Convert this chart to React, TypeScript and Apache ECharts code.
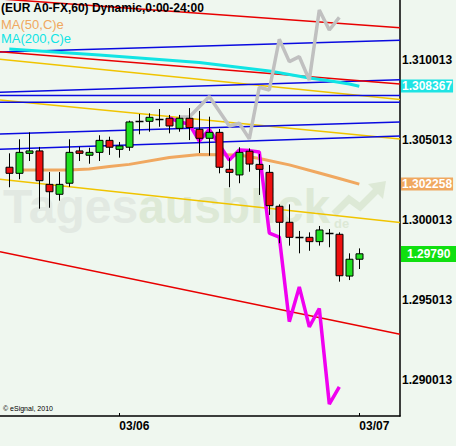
import React, { useEffect, useRef } from "react";
import * as echarts from "echarts";

// ---- data ----
const opens = [1.30331, 1.30293, 1.30418, 1.30433, 1.30224, 1.30162, 1.30231, 1.30433, 1.30406, 1.30424, 1.30499, 1.30443, 1.30456, 1.30622, 1.30618, 1.30633, 1.30637, 1.30574, 1.30637, 1.30568, 1.30512, 1.30549, 1.30318, 1.30283, 1.30431, 1.30349, 1.30299, 1.30087, 1.29987, 1.29897, 1.29893, 1.29866, 1.29918, 1.29912, 1.29651, 1.29756];
const closes = [1.30293, 1.30424, 1.30433, 1.30247, 1.30178, 1.30224, 1.30424, 1.30418, 1.30424, 1.30499, 1.30456, 1.30464, 1.30614, 1.30622, 1.30643, 1.30633, 1.30589, 1.30637, 1.30579, 1.30512, 1.30549, 1.30331, 1.30299, 1.30424, 1.30351, 1.30318, 1.30091, 1.29987, 1.29893, 1.29897, 1.29866, 1.29939, 1.29918, 1.29653, 1.29756, 1.2979];
const lows = [1.30206, 1.30256, 1.3037, 1.30072, 1.30078, 1.30122, 1.30209, 1.3037, 1.30353, 1.3037, 1.30408, 1.30391, 1.30434, 1.30537, 1.30553, 1.30584, 1.30543, 1.30553, 1.30501, 1.3042, 1.30403, 1.30293, 1.30206, 1.30231, 1.30303, 1.30158, 1.30033, 1.29856, 1.29841, 1.29793, 1.29809, 1.29841, 1.29831, 1.29616, 1.29626, 1.29695];
const highs = [1.30418, 1.30506, 1.30549, 1.30458, 1.30301, 1.30301, 1.30506, 1.30459, 1.30453, 1.30531, 1.30522, 1.30489, 1.30622, 1.30664, 1.30668, 1.30695, 1.30658, 1.30658, 1.30701, 1.30683, 1.30647, 1.3057, 1.30387, 1.30456, 1.30449, 1.30414, 1.30345, 1.30099, 1.30099, 1.29933, 1.29924, 1.29964, 1.29945, 1.29924, 1.29793, 1.29824];

const ma50Idx = [1, 6, 8, 10, 12, 16, 19, 23, 25, 28, 31, 33, 35];
const ma50Val = [1.30314, 1.30314, 1.3032, 1.30336, 1.30349, 1.30392, 1.30411, 1.30408, 1.30386, 1.30346, 1.30295, 1.30261, 1.302258];
const ma200Idx = [0, 9, 19, 26, 30, 32, 34, 35];
const ma200Val = [1.3107, 1.31033, 1.30986, 1.30933, 1.30889, 1.30872, 1.30851, 1.308367];

const grayIdx = [17, 18, 20, 22, 23, 24, 25, 26, 27, 28, 29, 30, 31, 32, 33];
const grayVal = [1.30645, 1.30645, 1.30773, 1.30589, 1.30606, 1.30508, 1.30831, 1.30814, 1.31131, 1.30991, 1.31022, 1.30876, 1.31314, 1.31189, 1.31268];
const magIdx = [16, 17, 18, 19, 20, 22, 23, 24, 25, 26, 27, 28, 29, 30, 31, 32, 33];
const magVal = [1.30639, 1.30614, 1.30601, 1.30495, 1.30567, 1.30376, 1.30439, 1.30435, 1.30426, 1.2992, 1.29895, 1.29366, 1.29583, 1.29333, 1.29448, 1.28851, 1.28958];

// trend lines: [price at left edge, price at right edge]
const redLines = [[1.31383, 1.31203], [1.31053, 1.30851], [1.29803, 1.29287]];
const blueLines = [[1.31051, 1.31124], [1.30799, 1.30878], [1.30779, 1.30779], [1.30737, 1.30737], [1.30539, 1.30614], [1.30443, 1.30526]];
const yellowLines = [[1.31006, 1.30754], [1.30751, 1.30508], [1.30256, 1.29986]];

const yTickValues = [1.290013, 1.295013, 1.300013, 1.305013, 1.310013];
const yTickLabels = ["1.290013", "1.295013", "1.300013", "1.305013", "1.310013"];
const dateTickIdx = [11, 35];
const dateTickLabels = ["03/06", "03/07"];

const markerValues = [1.308367, 1.302258, 1.2979];
const markerLabels = ["1.308367", "1.302258", "1.29790"];
const markerColors = ["#1ee4e4", "#f0a860", "#10e010"];

const xMin = -0.93;
const xMax = 39.07;
const yMin = 1.287763;
const yMax = 1.313763;

const FONT = '"Liberation Sans", Arial, sans-serif';

export default function App() {
  const ref = useRef<HTMLDivElement>(null);
  useEffect(() => {
    if (!ref.current) return;
    const chart = echarts.init(ref.current, null, { renderer: "svg" });

    const trend = (arr: number[][], color: string) =>
      arr.map((p) => ({
        type: "line",
        data: [[xMin, p[0]], [xMax, p[1]]],
        showSymbol: false,
        silent: true,
        z: 1,
        lineStyle: { color, width: 1.5 },
      }));

    const candleData = opens.map((o, i) => [i, o, closes[i], lows[i], highs[i]]);

    const option: any = {
      animation: false,
      backgroundColor: "#eff7ef",
      grid: { left: 0, right: 56, top: 0, bottom: 30 },
      xAxis: {
        type: "value",
        min: xMin,
        max: xMax,
        axisLine: { show: true, onZero: false, lineStyle: { color: "#000", width: 1.5 } },
        axisTick: { show: true, inside: true, length: 3, customValues: dateTickIdx, lineStyle: { color: "#000" } },
        axisLabel: {
          customValues: dateTickIdx,
          formatter: (v: number) => {
            const i = dateTickIdx.indexOf(Math.round(v));
            return i >= 0 ? dateTickLabels[i] : "";
          },
          align: "left",
          color: "#000",
          fontWeight: "bold",
          fontSize: 12,
          fontFamily: FONT,
          margin: 4,
        },
        splitLine: { show: false },
      },
      yAxis: {
        type: "value",
        position: "right",
        min: yMin,
        max: yMax,
        axisLine: { show: true, onZero: false, lineStyle: { color: "#000", width: 1.5 } },
        axisTick: { show: false },
        axisLabel: {
          customValues: yTickValues,
          formatter: (v: number) => {
            let best = 0;
            yTickValues.forEach((t, i) => {
              if (Math.abs(t - v) < Math.abs(yTickValues[best] - v)) best = i;
            });
            return yTickLabels[best];
          },
          color: "#000",
          fontWeight: "bold",
          fontSize: 12,
          fontFamily: FONT,
          margin: 2,
        },
        splitLine: { show: false },
      },
      graphic: [
        {
          type: "text",
          x: 3,
          y: 206,
          z: 0,
          silent: true,
          style: {
            text: "{a|Tages}{b|ausblick}",
            verticalAlign: "middle",
            rich: {
              a: { fill: "#e2e9e2", fontSize: 48, fontWeight: "bold", fontFamily: FONT },
              b: { fill: "#dde9d6", fontSize: 48, fontWeight: "bold", fontFamily: FONT },
            },
          },
        },
        {
          type: "text",
          x: 334,
          y: 223,
          z: 0,
          silent: true,
          style: { text: "de", fill: "#dde9d6", font: `bold 13px ${FONT}`, verticalAlign: "middle" },
        },
        {
          type: "polyline",
          z: 0,
          silent: true,
          shape: { points: [[334, 214], [349, 199], [360, 207], [376, 191]] },
          style: { stroke: "#dde9d6", lineWidth: 7, fill: "none" },
        },
        {
          type: "polygon",
          z: 0,
          silent: true,
          shape: { points: [[368, 184], [386, 181], [383, 199]] },
          style: { fill: "#dde9d6" },
        },
        {
          type: "text",
          x: 1,
          y: 2,
          z: 100,
          style: { text: "(EUR A0-FX,60) Dynamic,0:00-24:00", fill: "#000", font: `bold 12px ${FONT}` },
        },
        {
          type: "text",
          x: 1,
          y: 18,
          z: 100,
          style: { text: "MA(50,C)e", fill: "#f0a860", font: `13px ${FONT}` },
        },
        {
          type: "text",
          x: 1,
          y: 32,
          z: 100,
          style: { text: "MA(200,C)e", fill: "#10e4e4", font: `13px ${FONT}` },
        },
        {
          type: "text",
          x: 3,
          y: 405,
          z: 100,
          style: { text: "\u00a9 eSignal, 2010", fill: "#000", font: `7px ${FONT}` },
        },
      ],
      series: [
        ...trend(yellowLines, "#f0c400"),
        ...trend(blueLines, "#0a0ae0"),
        ...trend(redLines, "#e80000"),
        {
          type: "line",
          data: ma50Idx.map((k, i) => [k, ma50Val[i]]),
          showSymbol: false,
          z: 3,
          lineStyle: { color: "#f0a860", width: 3 },
        },
        {
          type: "line",
          data: ma200Idx.map((k, i) => [k, ma200Val[i]]),
          showSymbol: false,
          z: 3,
          lineStyle: { color: "#10e4e4", width: 3 },
        },
        {
          type: "line",
          data: grayIdx.map((k, i) => [k, grayVal[i]]),
          showSymbol: false,
          z: 4,
          lineStyle: { color: "#c0c0c0", width: 3.5 },
        },
        {
          type: "line",
          data: magIdx.map((k, i) => [k, magVal[i]]),
          showSymbol: false,
          z: 5,
          lineStyle: { color: "#f000f0", width: 3.5 },
        },
        {
          type: "custom",
          z: 10,
          data: candleData,
          encode: { x: 0, y: [1, 2, 3, 4] },
          renderItem: (params: any, api: any) => {
            const k = api.value(0);
            const o = api.value(1);
            const c = api.value(2);
            const lo = api.value(3);
            const hi = api.value(4);
            const pO = api.coord([k, o]);
            const pC = api.coord([k, c]);
            const pL = api.coord([k, lo]);
            const pH = api.coord([k, hi]);
            const cx = Math.round(pO[0]) + 0.5;
            const top = Math.min(pO[1], pC[1]);
            const bot = Math.max(pO[1], pC[1]);
            const children: any[] = [
              {
                type: "line",
                shape: { x1: cx, y1: pH[1], x2: cx, y2: pL[1] },
                style: { stroke: "#000", lineWidth: 1 },
              },
            ];
            if (bot - top < 1.2) {
              const yy = Math.round(top) + 0.5;
              children.push({
                type: "line",
                shape: { x1: cx - 4, y1: yy, x2: cx + 4, y2: yy },
                style: { stroke: "#000", lineWidth: 1.5 },
              });
            } else {
              children.push({
                type: "rect",
                shape: { x: cx - 3.5, y: top, width: 7, height: bot - top },
                style: { fill: c >= o ? "#1fe01f" : "#ee1010", stroke: "#000", lineWidth: 1 },
              });
            }
            return { type: "group", children };
          },
        },
        {
          type: "custom",
          z: 20,
          clip: false,
          silent: true,
          data: markerValues.map((v, i) => [xMax, v, i]),
          encode: { x: 0, y: 1 },
          renderItem: (params: any, api: any) => {
            const i = api.value(2);
            const p = api.coord([api.value(0), api.value(1)]);
            const isLast = i === 2;
            return {
              type: "text",
              x: p[0] + 1,
              y: Math.round(p[1]),
              style: {
                text: markerLabels[i],
                fill: "#fff",
                font: `bold 12px ${FONT}`,
                verticalAlign: "middle",
                align: "left",
                backgroundColor: markerColors[i],
                padding: isLast ? [2, 6, 2, 6] : [1, 1, 0, 1],
              },
            };
          },
        },
      ],
    };

    chart.setOption(option);
    return () => chart.dispose();
  }, []);

  return (
    <div
      ref={ref}
      style={{ position: "fixed", left: 0, top: 0, width: 456, height: 446 }}
    />
  );
}
